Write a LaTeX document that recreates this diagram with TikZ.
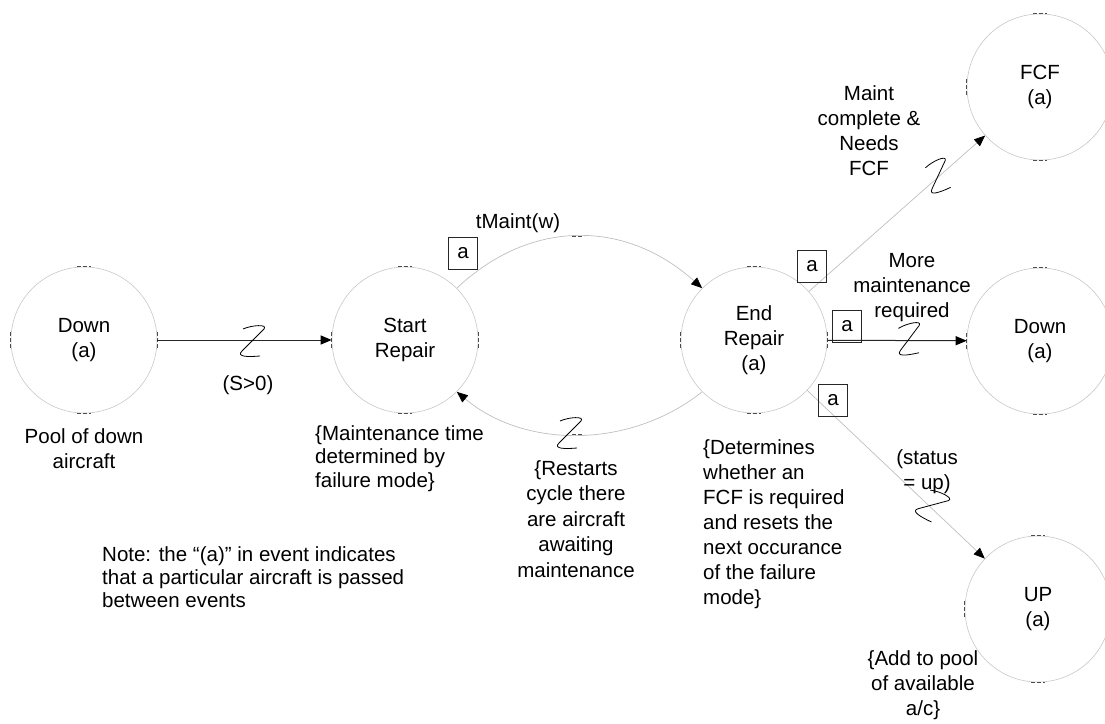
\documentclass[tikz,border=0pt]{standalone}
\usepackage{fontspec}
\setmainfont{Liberation Sans}
\usetikzlibrary{arrows.meta}
\begin{document}
\begin{tikzpicture}[x=1pt,y=-1pt,
  every node/.style={font=\fontsize{20.5}{25}\selectfont, text=black, inner sep=0pt},
  ev/.style={circle, draw=black!22, line width=0.6pt, minimum size=146pt, align=center},
  abox/.style={draw=black!85, line width=0.7pt, minimum width=29pt, minimum height=32pt},
  lite/.style={draw=black!25, line width=0.7pt, -{Triangle[length=11pt,width=9pt,color=black]}},
  dark/.style={draw=black!85, line width=1pt, -{Triangle[length=11pt,width=9pt,color=black]}},
  lbl/.style={align=center},
  lblt/.style={align=center, font=\fontsize{20.5}{25.5}\selectfont},
  lleft/.style={align=left, anchor=west, font=\fontsize{20.5}{23.5}\selectfont},
  tk/.style={draw=black!70, line width=0.8pt, dash pattern=on 4pt off 2pt},
  zig/.pic={\draw[black, line width=0.8pt, line join=round]
     (-9,-12) .. controls (0,-16) and (16,-17) .. (12,-12) -- (-10,10)
     .. controls (-16,16) and (-4,16) .. (8,15);}
]
\useasboundingbox (0,0) rectangle (1105,723);

\newcommand\evticks[1]{%
  \draw[tk] ([xshift=-7pt]#1.north) -- ([xshift=7pt]#1.north);
  \draw[tk] ([xshift=-7pt]#1.south) -- ([xshift=7pt]#1.south);
  \draw[tk] ([yshift=-8pt]#1.east) -- ([yshift=8pt]#1.east);
  \draw[tk] ([yshift=-8pt]#1.west) -- ([yshift=8pt]#1.west);}

% events
\node[ev] (d1) at (84,340) {Down\\(a)};
\node[ev] (sr) at (405,340) {Start\\Repair};
\node[ev] (er) at (754,340) {End\\Repair\\(a)};
\node[ev] (d2) at (1040,341) {Down\\(a)};
\node[ev] (fcf) at (1040,87) {FCF\\(a)};
\node[ev] (up) at (1038,609) {UP\\(a)};
\evticks{d1}\evticks{sr}\evticks{er}\evticks{d2}\evticks{fcf}\evticks{up}

% connectors
\draw[dark] (d1) -- (sr);
\draw[lite] (sr.45) .. controls (530,219) and (625,219) .. coordinate[pos=0.5] (tm) (er.135);
\draw[lite] (er.225) .. controls (630,449) and (525,449) .. coordinate[pos=0.5] (bm) (sr.315);
\draw[tk] ([xshift=-6pt]tm) -- ([xshift=6pt]tm);
\draw[tk] ([xshift=-6pt]bm) -- ([xshift=6pt]bm);
\draw[lite] (er) -- (fcf);
\draw[dark] (er) -- (d2);
\draw[lite] (er) -- (up);

% edge squiggles
\pic at (252,341) {zig};
\pic at (569,433) {zig};
\pic[rotate=20] at (938,176) {zig};
\pic[rotate=8] at (909,339) {zig};
\pic[rotate=-30] at (932,505) {zig};

% attribute boxes
\node[abox] (b1) at (463,253) {a};
\node[abox] (b2) at (812,266) {a};
\node[abox] (b3) at (847,326) {a};
\node[abox] (b4) at (833,400) {a};

% labels
\node (l1) at (518,223) {tMaint(w)};
\node (l2) at (248,385) {(S>0)};
\node[lbl] (l3) at (84,449) {Pool of down\\aircraft};
\node[lleft] (l4) at (315,458.5) {\{Maintenance time\\determined by\\failure mode\}};
\node[lblt] (l5) at (576,519) {\{Restarts\\cycle there\\are aircraft\\awaiting\\maintenance};
\node[lbl] (l6) at (869,131) {Maint\\complete \&\\Needs\\FCF};
\node[lbl] (l7) at (912,288) {More\\maintenance\\required};
\node[lbl] (l8) at (927,471.5) {(status\\= up)};
\node[align=left, anchor=west] (l9) at (703,524.5) {\{Determines\\whether an\\FCF is required\\and resets the\\next occurance\\of the failure\\mode\}};
\node[lbl] (l10) at (923,685) {\{Add to pool\\of available\\a/c\}};
\node[align=left, anchor=west, font=\fontsize{20.5}{23}\selectfont] (l11) at (102,577) {Note: the “(a)” in event indicates\\that a particular aircraft is passed\\between events};
\end{tikzpicture}
\end{document}
